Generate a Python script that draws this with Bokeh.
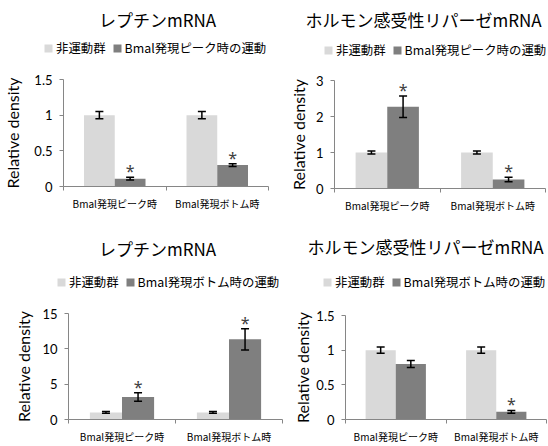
from bokeh.plotting import figure
from bokeh.models import (Range1d, FixedTicker, ColumnDataSource, Whisker, TeeHead,
                          Legend, LegendItem, Label)
from bokeh.layouts import row, column
from bokeh.embed import file_html
from bokeh.resources import INLINE
from bokeh.core.properties import value

# ---- data ----
groups = ["Bmal発現ピーク時", "Bmal発現ボトム時"]
control_name = "非運動群"
leptin_title = "レプチンmRNA"
hsl_title = "ホルモン感受性リパーゼmRNA"
peak_exercise_name = "Bmal発現ピーク時の運動"
bottom_exercise_name = "Bmal発現ボトム時の運動"
y_axis_title = "Relative density"

# exercise at Bmal peak: leptin
peak_leptin_control = [1.00, 1.00]
peak_leptin_control_err = [0.05, 0.05]
peak_leptin_exercise = [0.11, 0.30]
peak_leptin_exercise_err = [0.02, 0.02]
peak_leptin_sig = [True, True]

# exercise at Bmal peak: hormone-sensitive lipase
peak_hsl_control = [1.00, 1.00]
peak_hsl_control_err = [0.045, 0.045]
peak_hsl_exercise = [2.27, 0.25]
peak_hsl_exercise_err = [0.30, 0.06]
peak_hsl_sig = [True, True]

# exercise at Bmal bottom: leptin
bottom_leptin_control = [1.00, 1.00]
bottom_leptin_control_err = [0.12, 0.12]
bottom_leptin_exercise = [3.2, 11.35]
bottom_leptin_exercise_err = [0.6, 1.5]
bottom_leptin_sig = [True, True]

# exercise at Bmal bottom: hormone-sensitive lipase
bottom_hsl_control = [1.00, 1.00]
bottom_hsl_control_err = [0.045, 0.045]
bottom_hsl_exercise = [0.80, 0.11]
bottom_hsl_exercise_err = [0.05, 0.02]
bottom_hsl_sig = [False, True]

leptin_peak_ticks = [0, 0.5, 1, 1.5]
leptin_peak_tick_labels = ["0", "0.5", "1", "1.5"]
hsl_peak_ticks = [0, 1, 2, 3]
hsl_peak_tick_labels = ["0", "1", "2", "3"]
leptin_bottom_ticks = [0, 5, 10, 15]
leptin_bottom_tick_labels = ["0", "5", "10", "15"]
hsl_bottom_ticks = [0, 0.5, 1, 1.5]
hsl_bottom_tick_labels = ["0", "0.5", "1", "1.5"]

# ---- styling ----
CJK = "Noto Sans CJK JP"
LATIN = "Lato"
LIGHT = "#d9d9d9"
DARK = "#7f7f7f"
AXIS = "#868686"
BAR_W = 0.30
CHART_TOP_PAD = 12   # room above the frame for the top tick label
LEGEND_ITEM_H = 16


def header(title, exercise_name, width, height, title_pos, legend_pos):
    """Title and legend strip drawn above a chart."""
    hd = figure(width=width, height=height, x_range=Range1d(0, width),
                y_range=Range1d(0, height), output_backend="svg",
                toolbar_location=None, x_axis_location=None, y_axis_location=None,
                min_border=0, frame_align=False)
    hd.outline_line_color = None
    hd.grid.visible = False
    # zero-height swatch sources for the legend entries (nothing visible is drawn)
    swatch = ColumnDataSource(dict(x=[-1.0], top=[0.0]))
    r_c = hd.vbar(x="x", top="top", width=1, source=swatch, fill_color=LIGHT, line_color=None)
    r_e = hd.vbar(x="x", top="top", width=1, source=swatch, fill_color=DARK, line_color=None)

    tx, ty = title_pos
    hd.add_layout(Label(x=tx, y=height - ty, x_units="screen", y_units="screen",
                        text=title, text_align="center", text_baseline="middle",
                        text_font=CJK, text_font_size="17px", text_color="black"))

    lx, lcy = legend_pos
    hd.add_layout(Legend(items=[LegendItem(label=control_name, renderers=[r_c]),
                                LegendItem(label=exercise_name, renderers=[r_e])],
                         orientation="horizontal",
                         location=(lx, height - lcy - LEGEND_ITEM_H / 2),
                         glyph_width=10, glyph_height=10, label_standoff=3, spacing=6,
                         padding=0, margin=0, border_line_color=None,
                         background_fill_alpha=0, label_height=10,
                         label_text_font=CJK, label_text_font_size="12.4px",
                         label_text_color="black"))
    return hd


def chart(ctrl, ctrl_err, ex, ex_err, sig, ticks, tick_labels, width, height,
          left, right, bottom, label_standoff):
    p = figure(width=width, height=height, x_range=Range1d(0, len(groups)),
               y_range=Range1d(ticks[0], ticks[-1]),
               output_backend="svg", toolbar_location=None, frame_align=False,
               min_border_left=left, min_border_right=right,
               min_border_top=CHART_TOP_PAD, min_border_bottom=bottom)
    p.outline_line_color = None
    p.grid.visible = False

    centers = [i + 0.5 for i in range(len(groups))]
    xc = [c - BAR_W / 2 for c in centers]
    xe = [c + BAR_W / 2 for c in centers]

    src_c = ColumnDataSource(dict(x=xc, top=ctrl,
                                  upper=[v + e for v, e in zip(ctrl, ctrl_err)],
                                  lower=[v - e for v, e in zip(ctrl, ctrl_err)]))
    src_e = ColumnDataSource(dict(x=xe, top=ex,
                                  upper=[v + e for v, e in zip(ex, ex_err)],
                                  lower=[v - e for v, e in zip(ex, ex_err)]))
    p.vbar(x="x", top="top", width=BAR_W, source=src_c, fill_color=LIGHT, line_color=None)
    p.vbar(x="x", top="top", width=BAR_W, source=src_e, fill_color=DARK, line_color=None)

    for src in (src_c, src_e):
        p.add_layout(Whisker(source=src, base="x", upper="upper", lower="lower",
                             line_color="black", line_width=1.5, level="overlay",
                             upper_head=TeeHead(size=8, line_color="black", line_width=1.5),
                             lower_head=TeeHead(size=8, line_color="black", line_width=1.5)))

    star_x = [x for x, s in zip(xe, sig) if s]
    star_y = [v + e for v, e, s in zip(ex, ex_err, sig) if s]
    p.text(x=star_x, y=star_y, text=["*"] * len(star_x), text_align="center",
           text_baseline="alphabetic", y_offset=-6, text_font=value("Noto Sans"),
           text_font_size="16px", text_color="#404040")

    # x axis: category names centred between tick marks
    xa = p.xaxis[0]
    xa.ticker = FixedTicker(ticks=centers, minor_ticks=list(range(len(groups) + 1)))
    xa.major_label_overrides = {c: g for c, g in zip(centers, groups)}
    xa.axis_line_color = AXIS
    xa.major_tick_line_color = None
    xa.major_tick_out = 0
    xa.major_tick_in = 0
    xa.minor_tick_line_color = AXIS
    xa.minor_tick_out = 4
    xa.minor_tick_in = 0
    xa.major_label_standoff = 5
    xa.major_label_text_font = CJK
    xa.major_label_text_font_size = "10px"
    xa.major_label_text_color = "black"

    ya = p.yaxis[0]
    ya.ticker = FixedTicker(ticks=ticks, minor_ticks=[])
    ya.major_label_overrides = {t: s for t, s in zip(ticks, tick_labels)}
    ya.axis_line_color = AXIS
    ya.major_tick_line_color = AXIS
    ya.major_tick_out = 4
    ya.major_tick_in = 0
    ya.minor_tick_line_color = None
    ya.major_label_standoff = 7
    ya.major_label_text_font = LATIN
    ya.major_label_text_font_size = "13px"
    ya.major_label_text_color = "black"
    ya.axis_label = y_axis_title
    ya.axis_label_text_font = LATIN
    ya.axis_label_text_font_size = "16px"
    ya.axis_label_text_font_style = "normal"
    ya.axis_label_text_color = "black"
    ya.axis_label_standoff = label_standoff
    return p


def panel(title, exercise_name, ctrl, ctrl_err, ex, ex_err, sig, ticks, tick_labels,
          size, frame_box, title_pos, legend_pos, label_standoff):
    w, h = size
    left, right, top, bottom = frame_box
    head_h = top - CHART_TOP_PAD
    hd = header(title, exercise_name, w, head_h, title_pos, legend_pos)
    ch = chart(ctrl, ctrl_err, ex, ex_err, sig, ticks, tick_labels, w, h - head_h,
               left, w - right, h - bottom, label_standoff)
    return column(hd, ch, spacing=0)


# frame_box = (frame left, frame right, frame top, frame bottom) inside each panel
c1 = panel(leptin_title, peak_exercise_name, peak_leptin_control, peak_leptin_control_err,
           peak_leptin_exercise, peak_leptin_exercise_err, peak_leptin_sig,
           leptin_peak_ticks, leptin_peak_tick_labels,
           size=(285, 223), frame_box=(62, 268, 79, 186), title_pos=(157, 18.5),
           legend_pos=(43, 49), label_standoff=9)
c2 = panel(hsl_title, peak_exercise_name, peak_hsl_control, peak_hsl_control_err,
           peak_hsl_exercise, peak_hsl_exercise_err, peak_hsl_sig,
           hsl_peak_ticks, hsl_peak_tick_labels,
           size=(263, 223), frame_box=(46, 260, 80, 188), title_pos=(138, 19),
           legend_pos=(38, 51), label_standoff=5)
c3 = panel(leptin_title, bottom_exercise_name, bottom_leptin_control, bottom_leptin_control_err,
           bottom_leptin_exercise, bottom_leptin_exercise_err, bottom_leptin_sig,
           leptin_bottom_ticks, leptin_bottom_tick_labels,
           size=(290, 223), frame_box=(68, 282, 90, 198), title_pos=(157, 25),
           legend_pos=(56, 60), label_standoff=6)
c4 = panel(hsl_title, bottom_exercise_name, bottom_hsl_control, bottom_hsl_control_err,
           bottom_hsl_exercise, bottom_hsl_exercise_err, bottom_hsl_sig,
           hsl_bottom_ticks, hsl_bottom_tick_labels,
           size=(258, 223), frame_box=(52, 256, 92, 201), title_pos=(135, 23),
           legend_pos=(32, 60), label_standoff=1)

layout = column(row(c1, c2, spacing=0), row(c3, c4, spacing=0), spacing=0)

with open("out.html", "w") as f:
    f.write(file_html(layout, INLINE))
